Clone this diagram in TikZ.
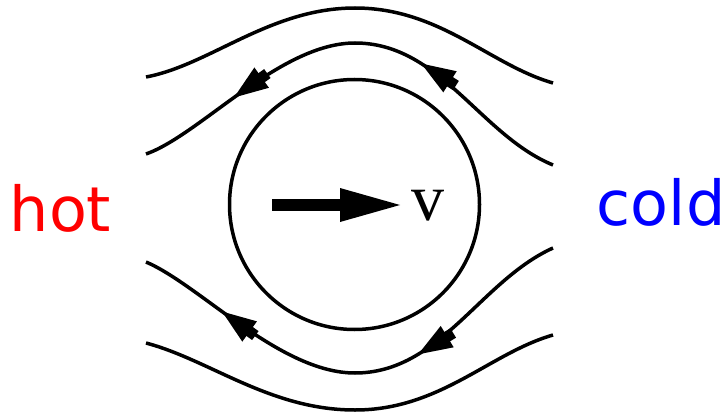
\documentclass[tikz,border=0pt]{standalone}
\usepackage{fontspec}
\newfontfamily\labelfont{DejaVu Sans}
\newfontfamily\vfont{Liberation Serif}
\usetikzlibrary{decorations.markings}
\newcommand\flowhead{\fill (0,0) -- (-34pt,12.5pt) -- (-34pt,-12.5pt) -- cycle; \fill (-33pt,-5.5pt) rectangle (-41pt,5.5pt);}
\begin{document}
\begin{tikzpicture}[x=1pt,y=-1pt,
  stream/.style={line width=3.5pt, line cap=butt},
  flowmarks/.style 2 args={postaction={decorate},
    decoration={markings,
      mark=at position #1 with {\flowhead},
      mark=at position #2 with {\flowhead}}},
  sidelabel/.style={font=\labelfont\fontsize{62}{62}\selectfont, inner sep=0pt, anchor=base west}
]
\useasboundingbox (0,0) rectangle (728,417);

% body
\node[circle, draw, line width=3.5pt, minimum size=250pt, inner sep=0pt] (body) at (354.5,204.5) {};

% streamlines (drawn from cold side to hot side)
\draw[stream] (553,83) .. controls (490,65) and (440,8) .. (355,8)
  .. controls (270,8) and (210,65) .. (146,77);
\draw[stream, flowmarks={0.35}{0.78}] (553,165) .. controls (480,135) and (440,43) .. (355,43)
  .. controls (280,43) and (200,135) .. (146,154);
\draw[stream, flowmarks={0.36}{0.81}] (553,248) .. controls (480,281) and (440,373) .. (355,373)
  .. controls (280,373) and (200,285) .. (146,262);
\draw[stream] (553,335) .. controls (490,353) and (440,410) .. (355,410)
  .. controls (270,410) and (210,360) .. (146,343);

% velocity arrow
\coordinate (vtail) at (272,205);
\coordinate (vtip) at (400,205);
\fill (vtail) ++(0,-6) rectangle (341,211);
\fill (340,188) -- (vtip) -- (340,222) -- cycle;
\node[font=\vfont\fontsize{66}{66}\selectfont, inner sep=0pt, anchor=base] (vlab) at (428,220) {v};

% labels
\node[sidelabel, text={rgb,255:red,255;green,0;blue,0}] (hot) at (9.5,231) {hot};
\node[sidelabel, text={rgb,255:red,0;green,0;blue,255}] (cold) at (596.6,225) {cold};
\end{tikzpicture}
\end{document}
